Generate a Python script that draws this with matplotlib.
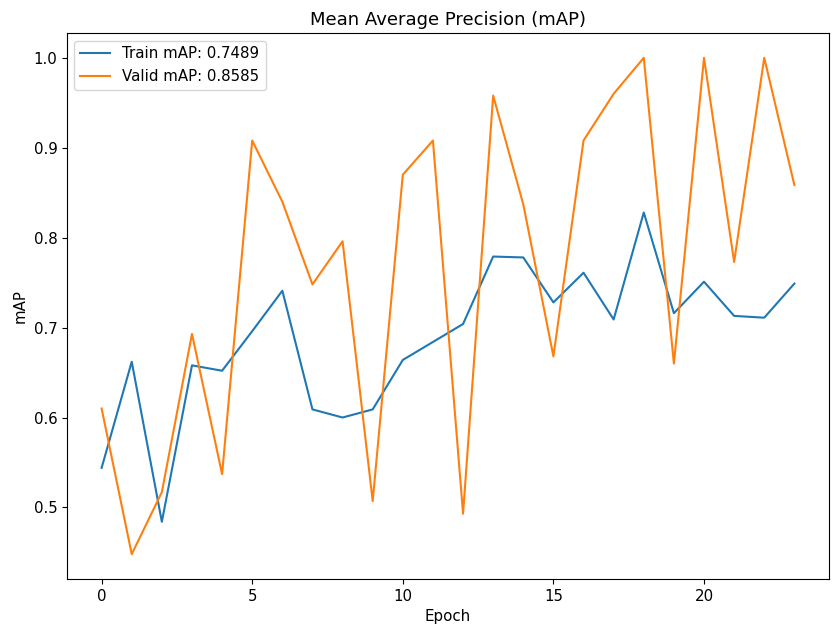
import matplotlib
matplotlib.use("Agg")
import matplotlib.pyplot as plt

epochs = list(range(24))
train_map = [0.544, 0.662, 0.484, 0.658, 0.652, 0.696, 0.741, 0.609, 0.600, 0.609,
             0.664, 0.684, 0.704, 0.779, 0.778, 0.728, 0.761, 0.709, 0.828, 0.716,
             0.751, 0.713, 0.711, 0.7489]
valid_map = [0.610, 0.448, 0.517, 0.693, 0.537, 0.908, 0.840, 0.748, 0.796, 0.507,
             0.870, 0.908, 0.493, 0.958, 0.837, 0.668, 0.908, 0.960, 1.000, 0.660,
             1.000, 0.773, 1.000, 0.8585]

plt.rcParams["font.size"] = 10.8
fig = plt.figure(figsize=(8.32, 6.25), dpi=100)
plt.plot(epochs, train_map, label=f"Train mAP: {train_map[-1]:.4f}")
plt.plot(epochs, valid_map, label=f"Valid mAP: {valid_map[-1]:.4f}")
plt.title("Mean Average Precision (mAP)")
plt.xlabel("Epoch")
plt.ylabel("mAP")
plt.legend(loc="upper left")
plt.subplots_adjust(left=0.0805, right=0.9964, top=0.9472, bottom=0.0736)
plt.savefig("out.png")
